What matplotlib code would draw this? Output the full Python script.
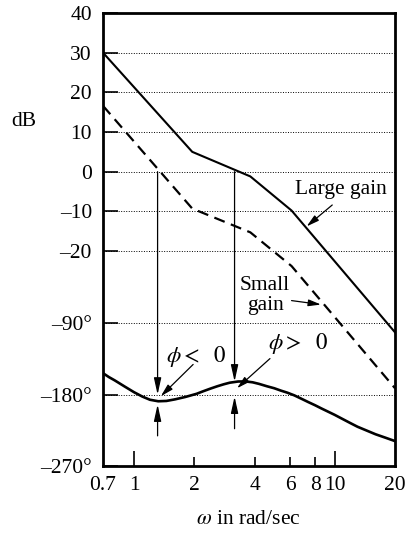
import numpy as np
import matplotlib.pyplot as plt
from matplotlib.ticker import NullLocator

plt.rcParams['font.family'] = ['Liberation Serif', 'DejaVu Serif']
plt.rcParams['mathtext.fontset'] = 'stix'
plt.rcParams['font.size'] = 15.5

# --- data ---
# straight-line magnitude curves (dB) at the break frequencies
mag_w = [0.7, 1.95, 3.8, 6.1, 20]
mag_large = [30, 5, -1.2, -9.8, -40.5]
mag_small = [16.6, -9.3, -15.3, -23.8, -54.6]

# phase curve (deg)
phase_w = [0.7, 0.75, 0.8, 0.9, 1.0, 1.1, 1.2, 1.32, 1.45, 1.6, 1.8, 2.05,
           2.2, 2.4, 2.6, 2.8, 3.0, 3.3, 3.6, 3.9, 4.2, 4.6, 5.0, 5.4, 5.8,
           6.3, 6.8, 7.4, 8.0, 8.6, 10, 11, 12, 13, 14.5, 16, 18, 20]
phase_deg = [-153, -158, -162, -170, -177, -182.5, -186.5, -188.4, -188, -186,
             -183, -179, -176, -172.5, -169.5, -167, -165, -163.5, -163.4,
             -164.5, -166.5, -169.5, -172, -175, -177.5, -181, -185, -189.5,
             -193.5, -197.5, -205.5, -211, -216, -220.5, -225.5, -230, -234.5,
             -238.6]

# 0 dB crossover frequencies (small gain, large gain)
w_cross_small = 1.31
w_cross_large = 3.17

db_ticks = [40, 30, 20, 10, 0, -10, -20]
deg_ticks = [-90, -180, -270]
x_ticks = [0.7, 1, 2, 4, 6, 8, 10, 20]
x_labels = ['0.7', '1', '2', '4', '6', '8', '10', '20']


def ph(p):
    # phase scale shares the axis with dB: -90 deg sits at -38.2 "dB"
    return -38.2 + (np.asarray(p, dtype=float) + 90) * 0.2


fig = plt.figure(figsize=(4.08, 5.34), dpi=100)
ax = fig.add_axes([103 / 408, 1 - 466 / 534, 292 / 408, 453 / 534])

ax.plot(mag_w, mag_large, color='k', lw=1.5, zorder=3)
ax.plot(mag_w, mag_small, color='k', lw=1.6, ls=(0, (5, 3)), zorder=3)
ax.plot(phase_w, ph(phase_deg), color='k', lw=1.9, zorder=3)

# axes / ticks
ax.set_xscale('log')
ax.set_xlim(0.7, 20)
ax.set_ylim(float(ph(-270)), 40)
ax.set_xticks(x_ticks)
ax.set_xticklabels(x_labels)
ax.xaxis.set_minor_locator(NullLocator())

yt = db_ticks + [float(v) for v in ph(deg_ticks)]
ylab = [str(v).replace('-', '\u2013') for v in db_ticks] + \
       ['\u2013%d\u00b0' % -v for v in deg_ticks]
ax.set_yticks(yt)
ax.set_yticklabels(ylab)
ax.yaxis.set_minor_locator(NullLocator())
ax.yaxis.grid(True, color='k', lw=0.7, ls=(0, (1, 1.6)), zorder=1)

ax.tick_params(axis='y', direction='in', length=11, width=1.2, pad=8)
ax.tick_params(axis='x', direction='in', width=1.2, pad=7)
for t, w in zip(ax.xaxis.get_major_ticks(), x_ticks):
    if w in (1, 10):
        t.tick1line.set_markersize(11)
    elif w in (0.7, 20):
        t.tick1line.set_markersize(0)
    else:
        t.tick1line.set_markersize(6.5)

for s in ax.spines.values():
    s.set_linewidth(2)

# vertical arrows from the 0 dB crossings down to the phase curve
big = dict(arrowstyle='-|>,head_length=1.0,head_width=0.22', color='k',
           lw=0.9, shrinkA=0, shrinkB=0, mutation_scale=10)
small = dict(arrowstyle='-|>,head_length=0.75,head_width=0.2', color='k',
             lw=0.9, shrinkA=0, shrinkB=0, mutation_scale=10)

ax.annotate('', xy=(w_cross_small, ph(-180)), xytext=(w_cross_small, 0), arrowprops=big)
ax.annotate('', xy=(w_cross_small, ph(-192.5)), xytext=(w_cross_small, ph(-232)), arrowprops=big)
ax.annotate('', xy=(w_cross_large, ph(-163.5)), xytext=(w_cross_large, 0), arrowprops=big)
ax.annotate('', xy=(w_cross_large, ph(-182.5)), xytext=(w_cross_large, ph(-223)), arrowprops=big)

# labels
ax.text(1.45, ph(-132), r'$\phi <\ \ 0$', fontsize=16.5, ha='left', va='center')
ax.annotate('', xy=(1.36, ph(-182)), xytext=(1.97, ph(-142)), arrowprops=small)
ax.text(4.65, ph(-116), r'$\phi >\ \ 0$', fontsize=16.5, ha='left', va='center')
ax.annotate('', xy=(3.26, ph(-172)), xytext=(4.76, ph(-134.6)), arrowprops=small)

ax.text(10.7, -4.4, 'Large gain', ha='center', va='center')
ax.annotate('', xy=(7.25, -13.8), xytext=(9.73, -8.4), arrowprops=small)
ax.text(4.5, -31.3, 'Small\ngain', ha='center', va='center', linespacing=1.05)
ax.annotate('', xy=(8.55, -33.5), xytext=(6.1, -32.5), arrowprops=small)

fig.text(23.3 / 408, 1 - 121.7 / 534, 'dB', ha='center', va='center')
fig.text(248.5 / 408, 1 - 520 / 534, r'$\omega$ in rad/sec', ha='center', va='center')

fig.savefig('out.png', dpi=100)
